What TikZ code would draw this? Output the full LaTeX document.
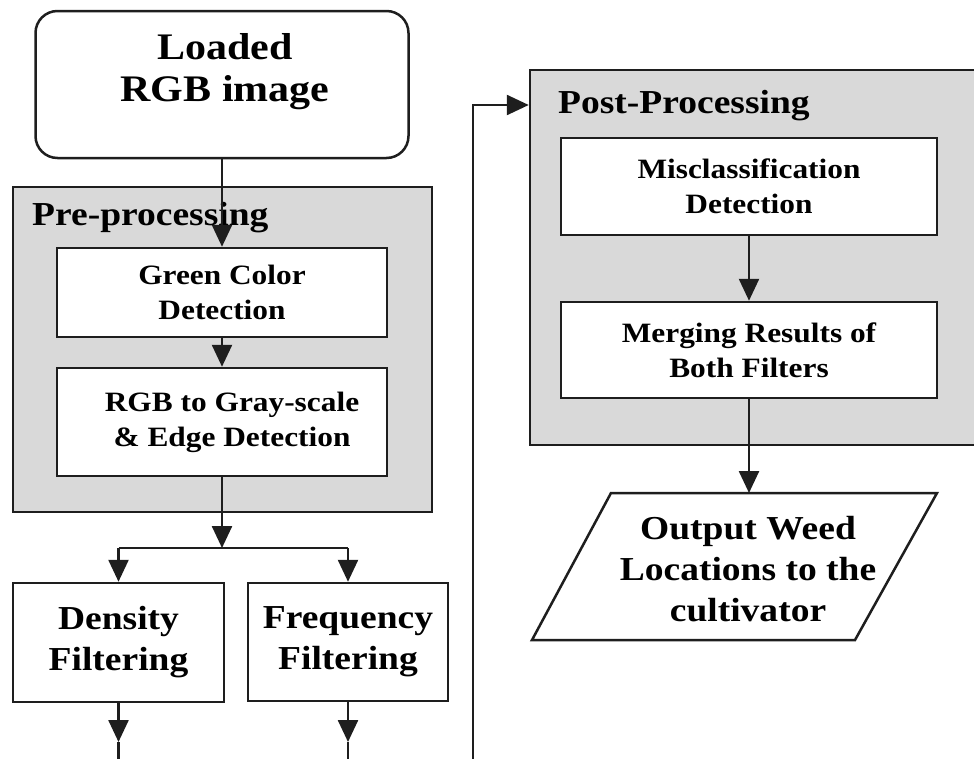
\documentclass[tikz,border=0pt]{standalone}
\usepackage{fontspec}
\setmainfont{Liberation Serif}[FakeStretch=1.12]
\usetikzlibrary{arrows.meta}

\definecolor{linec}{RGB}{30,30,30}
\definecolor{groupfill}{RGB}{217,217,217}

\tikzset{
  flowline/.style={draw=linec, line width=2.5pt},
  flowarrow/.style={flowline, -{Triangle[length=22pt,width=20pt]}},
  procbox/.style={flowline, fill=white, rectangle, inner sep=0pt, align=center},
  groupbox/.style={flowline, fill=groupfill, rectangle, inner sep=0pt},
  smalltext/.style={font=\bfseries\fontsize{28}{35}\selectfont},
  bigtext/.style={font=\bfseries\fontsize{33.5}{41}\selectfont},
  titletext/.style={font=\bfseries\fontsize{33.5}{40}\selectfont, inner sep=0pt},
}

\begin{document}
\begin{tikzpicture}[x=1pt, y=-1pt]
  \useasboundingbox (0,0) rectangle (974,758);
  \clip (0,0) rectangle (974,758);

  % start node
  \node[flowline, fill=white, rounded corners=22pt, minimum width=373pt, minimum height=147pt]
    (load) at (222,84.5) {};
  \node[font=\bfseries\fontsize{37.5}{42}\selectfont, align=center, inner sep=0pt]
    (loadtext) at (225,72) {Loaded\\RGB image};

  % pre-processing group
  \node[groupbox, minimum width=419pt, minimum height=325pt] (pre) at (222.5,349.5) {};
  \node[titletext, anchor=base west] (pretitle) at (32,225) {Pre-processing};
  \node[procbox, smalltext, minimum width=330pt, minimum height=89pt] (green) at (222,292.5)
    {Green Color\\Detection};
  \node[procbox, smalltext, minimum width=330pt, minimum height=108pt] (rgb) at (222,422)
    {\hspace*{20pt}RGB to Gray-scale\\\hspace*{20pt}\& Edge Detection};

  % filters
  \node[procbox, bigtext, minimum width=211pt, minimum height=119pt] (dens) at (118.5,642.5)
    {Density\\Filtering};
  \node[procbox, bigtext, minimum width=200pt, minimum height=118pt] (freq) at (348,642)
    {Frequency\\Filtering};

  % post-processing group (runs past the right edge)
  \node[groupbox, minimum width=470pt, minimum height=375pt] (post) at (765,257.5) {};
  \node[titletext, anchor=base west] (posttitle) at (558,113) {Post-Processing};
  \node[procbox, smalltext, minimum width=376pt, minimum height=97pt] (misc) at (749,186.5)
    {Misclassification\\Detection};
  \node[procbox, smalltext, minimum width=376pt, minimum height=96pt] (merge) at (749,350)
    {Merging Results of\\Both Filters};

  % output parallelogram
  \coordinate (otl) at (611,493);
  \coordinate (otr) at (937,493);
  \coordinate (obr) at (855,640);
  \coordinate (obl) at (532,640);
  \coordinate (otop) at (749,493);
  \draw[flowline, fill=white] (otl) -- (otr) -- (obr) -- (obl) -- cycle;
  \node[bigtext, align=center, inner sep=0pt] (out) at (748,569)
    {Output Weed\\Locations to the\\cultivator};

  % connectors
  \draw[flowarrow] (load.south) -- (green.north);
  \draw[flowarrow] (green.south) -- (rgb.north);
  \coordinate (split) at (222,548);
  \draw[flowarrow] (rgb.south) -- (split);
  \draw[flowline] (dens.north |- split) -- (freq.north |- split);
  \draw[flowarrow] (dens.north |- split) -- (dens.north);
  \draw[flowarrow] (freq.north |- split) -- (freq.north);

  \coordinate (densend) at (118.5,742);
  \coordinate (freqend) at (348,742);
  \draw[flowarrow] (dens.south) -- (densend);
  \draw[flowline] (densend) -- ++(0,20);
  \draw[flowarrow] (freq.south) -- (freqend);
  \draw[flowline] (freqend) -- ++(0,20);

  \coordinate (feed) at (473,762);
  \coordinate (feedturn) at (473,105);
  \draw[flowarrow] (feed) -- (feedturn) -- (post.west |- feedturn);

  \draw[flowarrow] (misc.south) -- (merge.north);
  \draw[flowarrow] (merge.south) -- (otop);
\end{tikzpicture}
\end{document}
